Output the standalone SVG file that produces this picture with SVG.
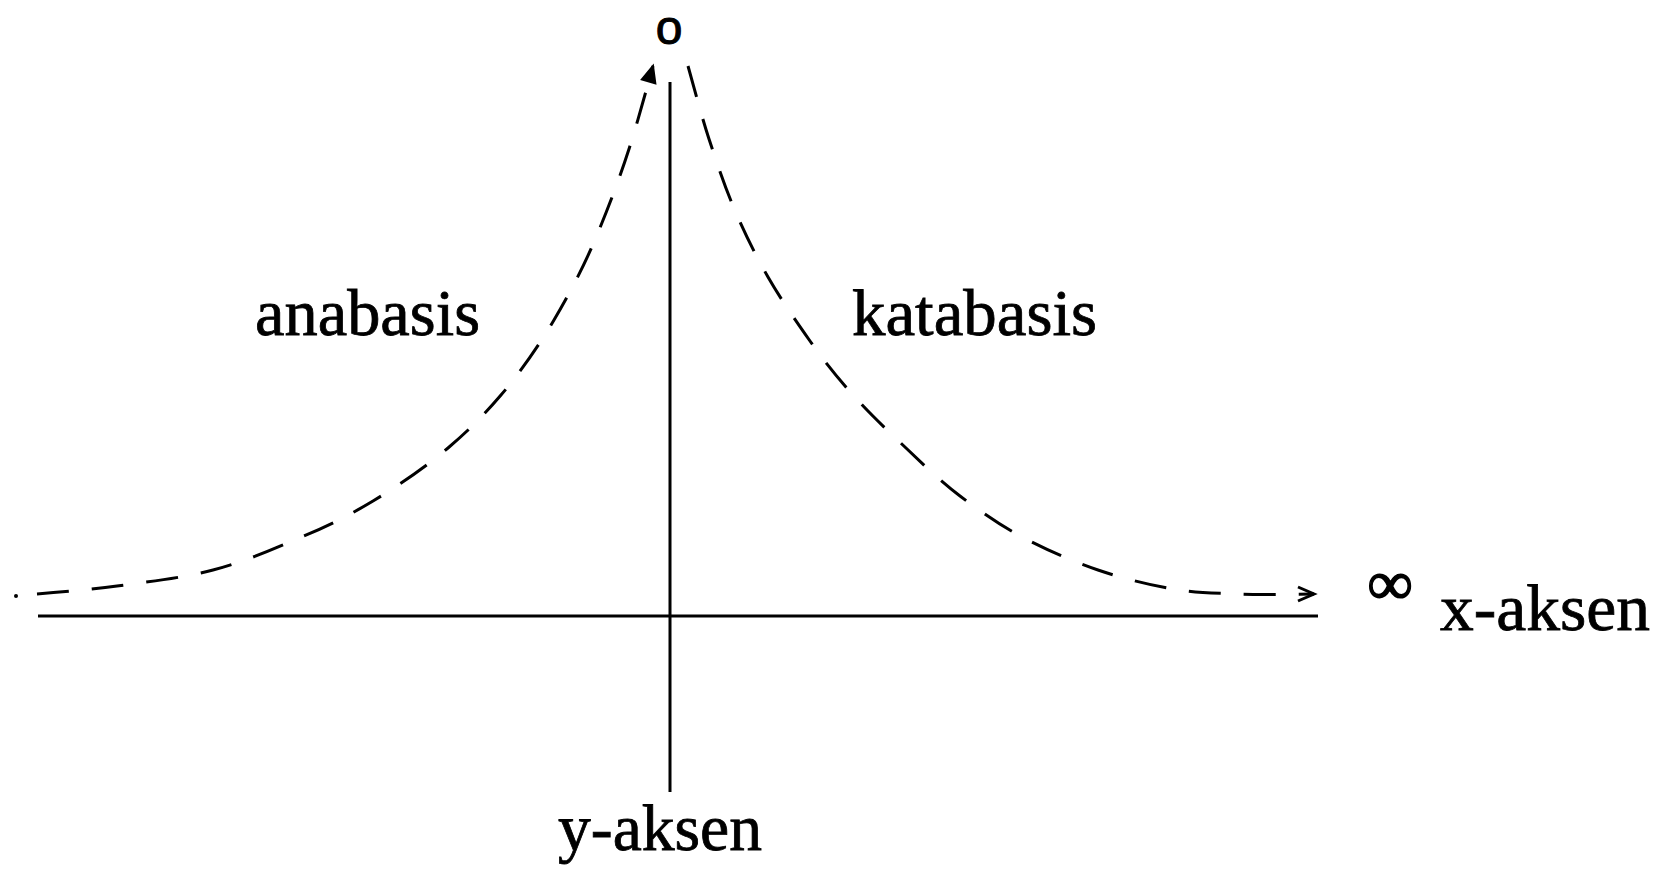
<svg xmlns="http://www.w3.org/2000/svg" width="1672" height="882" viewBox="0 0 1672 882">
<style>
.axis{stroke:#000;stroke-width:3;fill:none}
.curve{stroke:#000;stroke-width:3;fill:none;stroke-dasharray:32 23}
.lbl{font-family:"Liberation Serif","DejaVu Serif",serif;font-size:66px;fill:#000;stroke:#000;stroke-width:0.8}
</style>
<defs>
<marker id="open" markerUnits="userSpaceOnUse" markerWidth="30" markerHeight="30" viewBox="-20 -15 30 30" refX="0" refY="0" orient="auto">
<path d="M-16,-7 L0,0 L-16,7" fill="none" stroke="#000" stroke-width="3"/>
</marker>
<marker id="solid" markerUnits="userSpaceOnUse" markerWidth="30" markerHeight="30" viewBox="-20 -15 30 30" refX="0" refY="0" orient="auto">
<path d="M-16,-7 L0,0 L-16,7 Z" fill="#000" stroke="#000" stroke-width="2"/>
</marker>
</defs>
<rect width="1672" height="882" fill="#fff"/>
<g id="axes">
<line class="axis" x1="38" y1="616" x2="1318" y2="616"/>
<line class="axis" x1="670" y1="82" x2="670" y2="792"/>
<circle cx="16" cy="596" r="2" fill="#000"/>
</g>
<g id="connectors">
<path id="anabasis-curve" class="curve" marker-end="url(#solid)" d="M37,594 C50,593 88,590 117,586 C146,582 183,578 213,570 C243,562 272,550 299,538 C326,527 348,516 373,501 C398,486 427,466 448,448 C469,430 483,416 501,395 C519,374 538,347 554,320 C570,293 585,264 597,235 C609,206 620,177 629,149 C638,121 649,80 653,66"/>
<path id="katabasis-curve" class="curve" marker-end="url(#open)" d="M688,66 C691.5,78 701,114.5 709,139 C717,163.5 726,190 736,213 C746,236 756,256 768,277 C780,298 796,321 810,341 C824,361 837,377 853,395 C869,413 888,431 906,448 C924,465 940,481 960,496 C980,511 1001,526 1024,538 C1047,550 1073,561.5 1098,570 C1123,578.5 1150,585 1173,589 C1196,593 1214,593 1237,594 C1260,595 1299.5,594 1314,594"/>
</g>
<g id="origin-label"><text x="669" y="44" text-anchor="middle" font-family="Liberation Sans, Arial, sans-serif" font-size="48" stroke="#000" stroke-width="1">o</text></g>
<g id="anabasis-label"><text class="lbl" x="255" y="335" textLength="225" lengthAdjust="spacingAndGlyphs">anabasis</text></g>
<g id="katabasis-label"><text class="lbl" x="852" y="335" textLength="245" lengthAdjust="spacingAndGlyphs">katabasis</text></g>
<g id="infinity-label"><text x="1390" y="604" text-anchor="middle" font-family="Liberation Serif, serif" font-size="62" font-weight="bold" stroke="#000" stroke-width="1.5">∞</text></g>
<g id="x-axis-label"><text class="lbl" x="1440" y="630" textLength="210" lengthAdjust="spacingAndGlyphs">x-aksen</text></g>
<g id="y-axis-label"><text class="lbl" x="558" y="850" textLength="204" lengthAdjust="spacingAndGlyphs">y-aksen</text></g>
</svg>
